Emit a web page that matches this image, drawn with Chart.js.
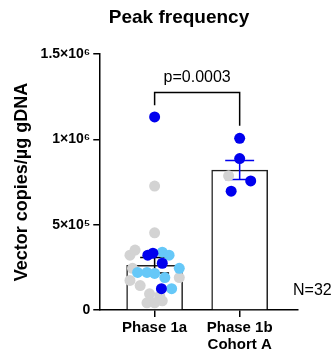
<!DOCTYPE html>
<html>
<head>
<meta charset="utf-8">
<script src="https://cdn.jsdelivr.net/npm/chart.js@4.4.0/dist/chart.umd.min.js"></script>
<style>
  html, body { margin: 0; padding: 0; background: #fff; }
</style>
</head>
<body>
<canvas id="peak-graph" width="333" height="356"></canvas>
<script>
// group labels and bar values (mean +/- SEM)
const groupLabels = [["Phase 1a"], ["Phase 1b", "Cohort A"]];
const barMeans = [262000, 820000];
const barSem = [45000, 56000];

const yTicks = [0, 500000, 1000000, 1500000];
const yTickLabels = ["0", "5×10⁵", "1×10⁶", "1.5×10⁶"];

// individual dots; x = group index + a bit of jitter
const greyX = [0, 0, -0.29, -0.23, -0.26, 0.29, -0.29, -0.17, -0.06, 0.06, -0.09, 0, 0.09, 0.87];
const greyY = [726000, 452000, 321000, 351000, 244000, 190000, 173000, 143000, 95000, 83000, 42000, 42000, 54000, 786000];

const lightX = [0.09, 0.17, 0.29, -0.2, -0.09, 0, 0.12, 0.2];
const lightY = [339000, 321000, 244000, 220000, 220000, 214000, 190000, 125000];

const blueX = [0, -0.08, -0.02, 0.09, 0.08, 1.0, 1.0, 1.13, 0.9];
const blueY = [1131000, 321000, 333000, 274000, 125000, 1006000, 887000, 756000, 696000];

const pValue = "p=0.0003";
const nText = "N=32";
const titleText = "Peak frequency";

const FONT = "'Liberation Sans', Arial, sans-serif";

function toPoints(xs, ys) {
    let pts = [];
    for (let i = 0; i < xs.length; i++) {
        pts.push({x: xs[i], y: ys[i]});
    }
    return pts;
}

// error bars, significance bracket and the loose text bits
const extras = {
    id: 'extras',
    afterDatasetDraw(chart, args) {
        if (args.index !== 0) return; // after the bars, under the dots
        const ctx = chart.ctx;
        const xs = chart.scales.x, ys = chart.scales.y;
        const colors = ['#000000', '#0000ee'];
        ctx.save();
        ctx.lineWidth = 1.5;
        for (let i = 0; i < barMeans.length; i++) {
            const cx = xs.getPixelForValue(i);
            const top = ys.getPixelForValue(barMeans[i] + barSem[i]);
            const bot = ys.getPixelForValue(barMeans[i] - barSem[i]);
            const hw = xs.getPixelForValue(i + 0.17) - cx;
            ctx.strokeStyle = colors[i];
            ctx.beginPath();
            ctx.moveTo(cx, top); ctx.lineTo(cx, bot);
            ctx.moveTo(cx - hw, top); ctx.lineTo(cx + hw, top);
            ctx.moveTo(cx - hw, bot); ctx.lineTo(cx + hw, bot);
            ctx.stroke();
        }
        ctx.restore();
    },
    afterDraw(chart) {
        const ctx = chart.ctx;
        const xs = chart.scales.x, ys = chart.scales.y;
        ctx.save();
        ctx.fillStyle = '#000';
        ctx.textAlign = 'center';
        ctx.textBaseline = 'middle';
        ctx.font = "bold 19px " + FONT;
        ctx.fillText(titleText, 179, 18);

        // bracket
        const x0 = xs.getPixelForValue(0), x1 = xs.getPixelForValue(1);
        const yTop = ys.getPixelForValue(1275000);
        ctx.strokeStyle = '#000';
        ctx.lineWidth = 1.5;
        ctx.beginPath();
        ctx.moveTo(x0, ys.getPixelForValue(1200000));
        ctx.lineTo(x0, yTop);
        ctx.lineTo(x1, yTop);
        ctx.lineTo(x1, ys.getPixelForValue(1080000));
        ctx.stroke();

        ctx.font = "16px " + FONT;
        ctx.fillText(pValue, xs.getPixelForValue(0.5), ys.getPixelForValue(1363000));

        ctx.textAlign = 'left';
        ctx.fillText(nText, xs.getPixelForValue(1.628), ys.getPixelForValue(113000));
        ctx.restore();
    }
};

const peakGraph = document.getElementById('peak-graph');

new Chart(peakGraph, {
    data: {
        datasets: [
            {
                type: 'bar',
                order: 10, // drawn first, under the dots
                data: toPoints([0, 1], barMeans),
                backgroundColor: '#ffffff',
                borderColor: '#222222',
                borderWidth: 1.5,
                borderSkipped: 'start',
                barThickness: 56
            },
            {
                type: 'scatter',
                order: 3,
                data: toPoints(greyX, greyY),
                backgroundColor: '#d3d3d3',
                pointRadius: 5.5,
                borderWidth: 0
            },
            {
                type: 'scatter',
                order: 2,
                data: toPoints(lightX, lightY),
                backgroundColor: '#66c8f8',
                pointRadius: 5.5,
                borderWidth: 0
            },
            {
                type: 'scatter',
                order: 1,
                data: toPoints(blueX, blueY),
                backgroundColor: '#0000ee',
                pointRadius: 5.5,
                borderWidth: 0
            }
        ]
    },
    options: {
        responsive: false,
        animation: false,
        layout: {
            padding: {top: 54, right: 35, bottom: 0, left: 9}
        },
        plugins: {
            legend: {display: false},
            tooltip: {enabled: false}
        },
        scales: {
            x: {
                type: 'linear',
                offset: false,
                min: -0.651,
                max: 1.686,
                afterBuildTicks: (s) => { s.ticks = [{value: 0}, {value: 1}]; },
                ticks: {
                    callback: (v, i) => groupLabels[i],
                    color: '#000',
                    font: {family: FONT, size: 15, weight: 'bold', lineHeight: 1.1},
                    padding: 3,
                    maxRotation: 0,
                    autoSkip: false
                },
                grid: {offset: false, drawOnChartArea: false, drawTicks: true, tickLength: 7, color: '#000', lineWidth: 1.5},
                border: {color: '#000', width: 1.5}
            },
            y: {
                min: 0,
                max: 1500000,
                afterBuildTicks: (s) => { s.ticks = yTicks.map(v => ({value: v})); },
                ticks: {
                    callback: (v, i) => yTickLabels[i],
                    color: '#000',
                    font: {family: FONT, size: 14, weight: 'bold'},
                    padding: 3,
                    autoSkip: false
                },
                grid: {drawOnChartArea: false, drawTicks: true, tickLength: 6, color: '#000', lineWidth: 1.5},
                border: {color: '#000', width: 1.5},
                title: {
                    display: true,
                    text: 'Vector copies/µg gDNA',
                    color: '#000',
                    font: {family: FONT, size: 18, weight: 'bold'},
                    padding: {top: 2, bottom: 5}
                }
            }
        }
    },
    plugins: [extras]
});
</script>
</body>
</html>
